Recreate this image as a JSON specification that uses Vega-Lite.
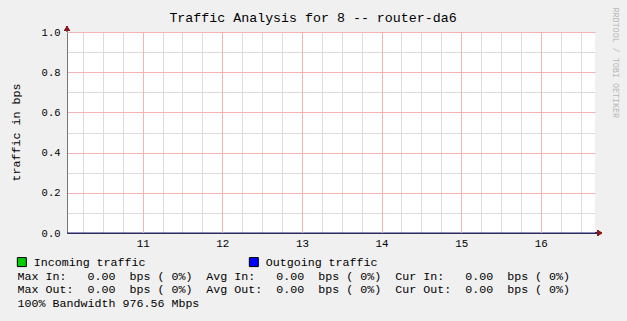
{
  "$schema": "https://vega.github.io/schema/vega-lite/v6.json",
  "width": 528,
  "height": 201,
  "autosize": "none",
  "padding": {"left": 67, "top": 32, "right": 32, "bottom": 88},
  "background": "#f0f0f0",
  "title": {
    "text": "Traffic Analysis for 8 -- router-da6",
    "font": "Liberation Mono",
    "fontSize": 13.3,
    "fontWeight": "normal",
    "color": "#000000",
    "anchor": "middle",
    "dx": -18,
    "offset": -17
  },
  "data": {
    "values": [
      {"series": "Incoming traffic", "t": 10.05, "v": 0},
      {"series": "Incoming traffic", "t": 11, "v": 0},
      {"series": "Incoming traffic", "t": 12, "v": 0},
      {"series": "Incoming traffic", "t": 13, "v": 0},
      {"series": "Incoming traffic", "t": 14, "v": 0},
      {"series": "Incoming traffic", "t": 15, "v": 0},
      {"series": "Incoming traffic", "t": 16, "v": 0},
      {"series": "Incoming traffic", "t": 16.68, "v": 0},
      {"series": "Outgoing traffic", "t": 10.05, "v": 0},
      {"series": "Outgoing traffic", "t": 11, "v": 0},
      {"series": "Outgoing traffic", "t": 12, "v": 0},
      {"series": "Outgoing traffic", "t": 13, "v": 0},
      {"series": "Outgoing traffic", "t": 14, "v": 0},
      {"series": "Outgoing traffic", "t": 15, "v": 0},
      {"series": "Outgoing traffic", "t": 16, "v": 0},
      {"series": "Outgoing traffic", "t": 16.68, "v": 0}
    ]
  },
  "layer": [
    {
      "mark": {"type": "area", "opacity": 1},
      "encoding": {
        "x": {
          "field": "t", "type": "quantitative",
          "scale": {"domain": [10.05, 16.68], "nice": false, "zero": false},
          "axis": {
            "orient": "bottom",
            "values": [11, 12, 13, 14, 15, 16],
            "format": "d",
            "grid": true,
            "gridColor": "#f4b4b4",
            "gridOpacity": 1,
            "ticks": false,
            "labelPadding": 4,
            "labelFont": "Liberation Mono",
            "labelFontSize": 10.8,
            "labelColor": "#000000",
            "domainColor": "#2b2b60",
            "zindex": 1,
            "title": [
              "Max In:\u00a0\u00a0\u00a00.00\u00a0\u00a0bps\u00a0(\u00a00%)\u00a0\u00a0Avg In:\u00a0\u00a0\u00a00.00\u00a0\u00a0bps\u00a0(\u00a00%)\u00a0\u00a0Cur In:\u00a0\u00a0\u00a00.00\u00a0\u00a0bps\u00a0(\u00a00%)",
              "Max Out:\u00a0\u00a00.00\u00a0\u00a0bps\u00a0(\u00a00%)\u00a0\u00a0Avg Out:\u00a0\u00a00.00\u00a0\u00a0bps\u00a0(\u00a00%)\u00a0\u00a0Cur Out:\u00a0\u00a00.00\u00a0\u00a0bps\u00a0(\u00a00%)",
              "100% Bandwidth 976.56 Mbps"
            ],
            "titleFont": "Liberation Mono",
            "titleFontSize": 11.67,
            "titleFontWeight": "normal",
            "titleColor": "#000000",
            "titleAlign": "left",
            "titleAnchor": "start",
            "titleBaseline": "top",
            "titleX": -50,
            "titleY": 37,
            "titleLineHeight": 13.75,
            "titleLimit": 2000
          }
        },
        "y": {
          "field": "v", "type": "quantitative", "stack": null,
          "scale": {"domain": [0, 1], "nice": false},
          "axis": {
            "orient": "left",
            "values": [0, 0.2, 0.4, 0.6, 0.8, 1.0],
            "format": ".1f",
            "grid": true,
            "gridColor": "#f4b4b4",
            "gridOpacity": 1,
            "ticks": false,
            "labelPadding": 7,
            "labelFont": "Liberation Mono",
            "labelFontSize": 10.5,
            "labelColor": "#000000",
            "domainColor": "#777777",
            "title": "traffic in bps",
            "titleFont": "Liberation Mono",
            "titleFontSize": 11.67,
            "titleFontWeight": "normal",
            "titleColor": "#000000",
            "titleAngle": -90,
            "titleAlign": "center",
            "titleBaseline": "middle",
            "titleX": -52,
            "titleY": 100
          }
        },
        "color": {
          "field": "series", "type": "nominal",
          "scale": {"domain": ["Incoming traffic", "Outgoing traffic"], "range": ["#00cc00", "#0000ff"]},
          "legend": {
            "title": null,
            "orient": "none",
            "legendX": -51,
            "legendY": 224,
            "direction": "horizontal",
            "columnPadding": 101,
            "symbolType": "square",
            "symbolSize": 81,
            "symbolStrokeColor": "#000000",
            "symbolStrokeWidth": 1,
            "symbolOpacity": 1,
            "labelOffset": 6,
            "labelFont": "Liberation Mono",
            "labelFontSize": 11.67,
            "labelColor": "#000000",
            "labelLimit": 400
          }
        }
      }
    },
    {
      "transform": [{"filter": "datum.series === 'Outgoing traffic'"}],
      "mark": {"type": "line", "color": "#22226e", "strokeWidth": 1},
      "encoding": {
        "x": {
          "field": "t", "type": "quantitative",
          "axis": {
            "orient": "top",
            "values": [10.25, 10.5, 10.75, 11.25, 11.5, 11.75, 12.25, 12.5, 12.75, 13.25, 13.5, 13.75, 14.25, 14.5, 14.75, 15.25, 15.5, 15.75, 16.25, 16.5],
            "grid": true,
            "gridColor": "#dcdcdc",
            "gridOpacity": 1,
            "labels": false,
            "ticks": false,
            "domain": false,
            "title": null,
            "zindex": 0
          }
        },
        "y": {
          "field": "v", "type": "quantitative",
          "axis": {
            "orient": "right",
            "values": [0.1, 0.3, 0.5, 0.7, 0.9],
            "grid": true,
            "gridColor": "#dcdcdc",
            "gridOpacity": 1,
            "labels": false,
            "ticks": false,
            "domain": false,
            "zindex": 0,
            "title": "RRDTOOL / TOBI OETIKER",
            "titleFont": "Liberation Mono",
            "titleFontSize": 8.4,
            "titleFontWeight": "normal",
            "titleColor": "#b8b8b8",
            "titleAngle": 90,
            "titleAlign": "left",
            "titleBaseline": "middle",
            "titleX": 20.5,
            "titleY": -25
          }
        }
      }
    },
    {
      "mark": {"type": "rule", "color": "#777777", "strokeWidth": 1},
      "encoding": {
        "x": {"datum": 10.05, "type": "quantitative", "axis": null},
        "y": {"datum": 1, "type": "quantitative", "axis": null},
        "y2": {"datum": 1.02}
      }
    },
    {
      "mark": {"type": "point", "shape": "triangle-up", "filled": true, "color": "#8b1a1a", "size": 28, "opacity": 1},
      "encoding": {
        "x": {"datum": 10.05, "type": "quantitative", "axis": null},
        "y": {"datum": 1.018, "type": "quantitative", "axis": null}
      }
    },
    {
      "mark": {"type": "rule", "color": "#2b2b60", "strokeWidth": 1},
      "encoding": {
        "x": {"datum": 16.68, "type": "quantitative", "axis": null},
        "x2": {"datum": 16.73},
        "y": {"datum": 0, "type": "quantitative", "axis": null}
      }
    },
    {
      "mark": {"type": "point", "shape": "triangle-right", "filled": true, "color": "#8b1a1a", "size": 28, "opacity": 1},
      "encoding": {
        "x": {"datum": 16.74, "type": "quantitative", "axis": null},
        "y": {"datum": 0, "type": "quantitative", "axis": null}
      }
    }
  ],
  "resolve": {"axis": {"x": "independent", "y": "independent"}},
  "config": {
    "font": "Liberation Mono",
    "view": {"stroke": null, "fill": "#ffffff"},
    "axis": {"gridWidth": 1}
  }
}
